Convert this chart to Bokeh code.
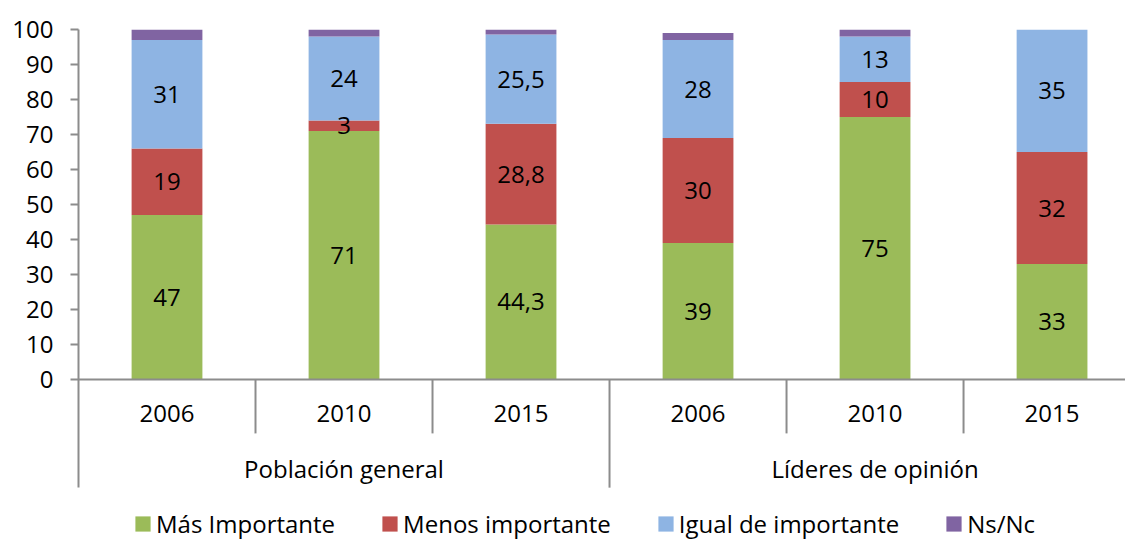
from bokeh.plotting import figure
from bokeh.models import ColumnDataSource, Range1d, FixedTicker, Span, Legend, LegendItem
from bokeh.core.properties import value
from bokeh.embed import file_html
from bokeh.resources import INLINE

# ---------------- data ----------------
groups = ["Población general", "Líderes de opinión"]
years = ["2006", "2010", "2015", "2006", "2010", "2015"]
series = ["Más Importante", "Menos importante", "Igual de importante", "Ns/Nc"]
mas_importante = [47, 71, 44.3, 39, 75, 33]
menos_importante = [19, 3, 28.8, 30, 10, 32]
igual_importante = [31, 24, 25.5, 28, 13, 35]
ns_nc = [3, 2, 1.4, 2, 2, 0]
y_ticks = [0, 10, 20, 30, 40, 50, 60, 70, 80, 90, 100]

# ---------------- style ----------------
COLORS = ["#9BBB59", "#C0504D", "#8EB4E3", "#8064A2"]
FONT = "Open Sans"
FS = "24px"
AXIS_COLOR = "#8c8c8c"
YEAR_SEP_DEPTH = -15.4
GROUP_SEP_DEPTH = -30.9
YEAR_LABEL_Y = -9.7
GROUP_LABEL_Y = -25.4

n = len(years)
per_group = n // len(groups)
xs = [i + 0.5 for i in range(n)]

keys = ["mas", "menos", "igual", "nsnc"]
src = ColumnDataSource(dict(x=xs, mas=mas_importante, menos=menos_importante,
                            igual=igual_importante, nsnc=ns_nc))

p = figure(width=1125, height=540, output_backend="svg", toolbar_location=None,
           x_range=Range1d(0, 5.915), y_range=Range1d(-46.0, 100),
           min_border_top=29, min_border_bottom=0, min_border_left=78, min_border_right=0)
p.outline_line_color = None
p.xgrid.visible = False
p.ygrid.visible = False
p.xaxis.visible = False

renderers = p.vbar_stack(keys, x="x", width=0.4, source=src, color=COLORS, line_color=None)

# value labels in the middle of each segment (Ns/Nc not labelled)
def fmt(v):
    return str(int(v)) if float(v).is_integer() else str(v).replace(".", ",")

lx, ly, lt = [], [], []
for i in range(n):
    base = 0
    for vals in (mas_importante, menos_importante, igual_importante):
        v = vals[i]
        lx.append(xs[i]); ly.append(base + v / 2); lt.append(fmt(v))
        base += v
p.text(x=lx, y=ly, text=lt, text_align="center", text_baseline="middle",
       text_font=value(FONT), text_font_size=FS, text_color="#000000")

# x axis line at 0
p.add_layout(Span(location=0, dimension="width", line_color=AXIS_COLOR, line_width=2))

# category separators
year_bounds = [i for i in range(1, n) if i % per_group != 0]
group_bounds = [i for i in range(1, n) if i % per_group == 0]
p.segment(x0=year_bounds, y0=[0] * len(year_bounds), x1=year_bounds,
          y1=[YEAR_SEP_DEPTH] * len(year_bounds), line_color=AXIS_COLOR, line_width=2)
p.segment(x0=group_bounds, y0=[0] * len(group_bounds), x1=group_bounds,
          y1=[GROUP_SEP_DEPTH] * len(group_bounds), line_color=AXIS_COLOR, line_width=2)

# category labels
p.text(x=xs, y=[YEAR_LABEL_Y] * n, text=years, text_align="center", text_baseline="middle",
       text_font=value(FONT), text_font_size=FS, text_color="#000000")
gx = [g * per_group + per_group / 2 for g in range(len(groups))]
p.text(x=gx, y=[GROUP_LABEL_Y] * len(groups), text=groups, text_align="center",
       text_baseline="middle", text_font=value(FONT), text_font_size=FS, text_color="#000000")

# y axis
p.yaxis.ticker = FixedTicker(ticks=y_ticks)
p.yaxis.bounds = (GROUP_SEP_DEPTH, 100)
p.yaxis.axis_line_color = AXIS_COLOR
p.yaxis.axis_line_width = 2
p.yaxis.major_tick_line_color = AXIS_COLOR
p.yaxis.major_tick_line_width = 2
p.yaxis.major_tick_out = 8
p.yaxis.major_tick_in = 0
p.yaxis.minor_tick_line_color = None
p.yaxis.major_label_standoff = 17
p.yaxis.major_label_text_font = FONT
p.yaxis.major_label_text_font_size = FS
p.yaxis.major_label_text_color = "#000000"

legend = Legend(items=[LegendItem(label=s, renderers=[r]) for s, r in zip(series, renderers)],
                orientation="horizontal", location=(55, 0), padding=0, margin=0,
                spacing=45, label_standoff=4, glyph_width=19, glyph_height=19,
                label_text_font=FONT, label_text_font_size=FS, label_text_color="#000000",
                border_line_color=None, background_fill_alpha=0)
p.add_layout(legend)

open("out.html", "w").write(file_html(p, INLINE))
